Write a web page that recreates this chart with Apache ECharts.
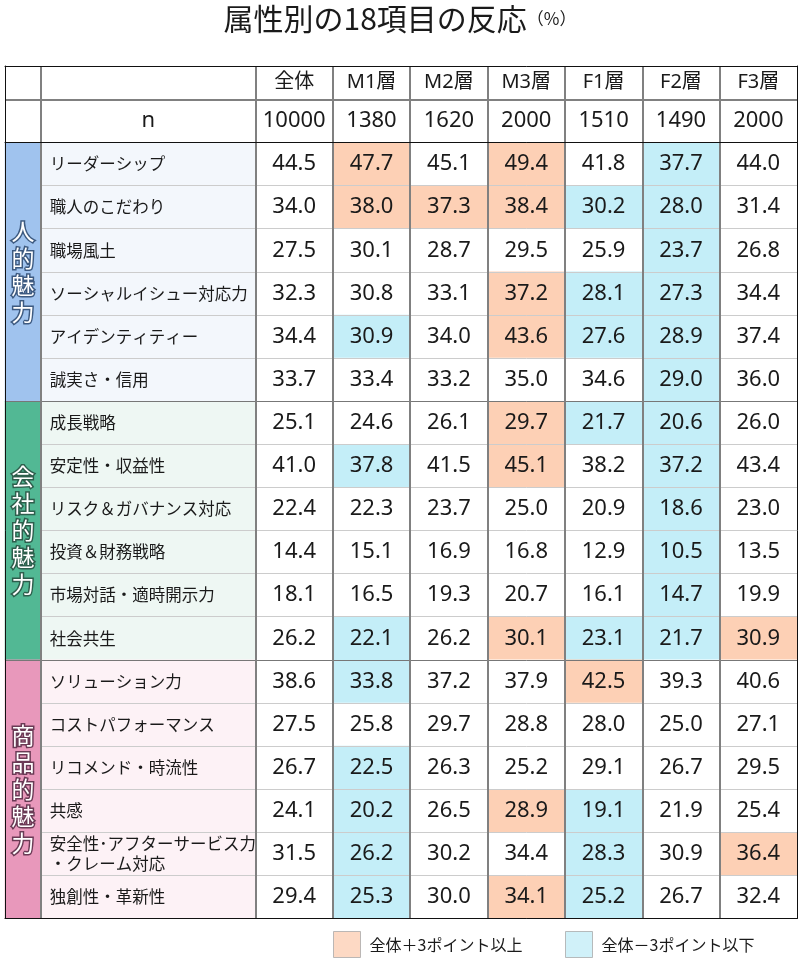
<!DOCTYPE html>
<html>
<head>
<meta charset="utf-8">
<script src="https://cdn.jsdelivr.net/npm/echarts@6/dist/echarts.min.js"></script>
<style>
  html, body { margin: 0; padding: 0; background: #fff; }
  #chart { width: 800px; height: 963px; }
</style>
</head>
<body>
<div id="chart"></div>
<script>
const groups = ["人的魅力", "会社的魅力", "商品的魅力"];
const items = [
  "リーダーシップ", "職人のこだわり", "職場風土", "ソーシャルイシュー対応力", "アイデンティティー", "誠実さ・信用",
  "成長戦略", "安定性・収益性", "リスク＆ガバナンス対応", "投資＆財務戦略", "市場対話・適時開示力", "社会共生",
  "ソリューション力", "コストパフォーマンス", "リコメンド・時流性", "共感", "安全性･アフターサービス力\n・クレーム対応", "独創性・革新性",
];
const segments = ["全体", "M1層", "M2層", "M3層", "F1層", "F2層", "F3層"];
const sampleSizes = [10000, 1380, 1620, 2000, 1510, 1490, 2000];
const values = [
  [44.5, 47.7, 45.1, 49.4, 41.8, 37.7, 44.0],
  [34.0, 38.0, 37.3, 38.4, 30.2, 28.0, 31.4],
  [27.5, 30.1, 28.7, 29.5, 25.9, 23.7, 26.8],
  [32.3, 30.8, 33.1, 37.2, 28.1, 27.3, 34.4],
  [34.4, 30.9, 34.0, 43.6, 27.6, 28.9, 37.4],
  [33.7, 33.4, 33.2, 35.0, 34.6, 29.0, 36.0],
  [25.1, 24.6, 26.1, 29.7, 21.7, 20.6, 26.0],
  [41.0, 37.8, 41.5, 45.1, 38.2, 37.2, 43.4],
  [22.4, 22.3, 23.7, 25.0, 20.9, 18.6, 23.0],
  [14.4, 15.1, 16.9, 16.8, 12.9, 10.5, 13.5],
  [18.1, 16.5, 19.3, 20.7, 16.1, 14.7, 19.9],
  [26.2, 22.1, 26.2, 30.1, 23.1, 21.7, 30.9],
  [38.6, 33.8, 37.2, 37.9, 42.5, 39.3, 40.6],
  [27.5, 25.8, 29.7, 28.8, 28.0, 25.0, 27.1],
  [26.7, 22.5, 26.3, 25.2, 29.1, 26.7, 29.5],
  [24.1, 20.2, 26.5, 28.9, 19.1, 21.9, 25.4],
  [31.5, 26.2, 30.2, 34.4, 28.3, 30.9, 36.4],
  [29.4, 25.3, 30.0, 34.1, 25.2, 26.7, 32.4],
];
// 1 = 全体+3ポイント以上, -1 = 全体−3ポイント以下 (as marked in the source table)
const marks = [
  [0, 1, 0, 1, 0, -1, 0],
  [0, 1, 1, 1, -1, -1, 0],
  [0, 0, 0, 0, 0, -1, 0],
  [0, 0, 0, 1, -1, -1, 0],
  [0, -1, 0, 1, -1, -1, 0],
  [0, 0, 0, 0, 0, -1, 0],
  [0, 0, 0, 1, -1, -1, 0],
  [0, -1, 0, 1, 0, -1, 0],
  [0, 0, 0, 0, 0, -1, 0],
  [0, 0, 0, 0, 0, -1, 0],
  [0, 0, 0, 0, 0, -1, 0],
  [0, -1, 0, 1, -1, -1, 1],
  [0, -1, 0, 0, 1, 0, 0],
  [0, 0, 0, 0, 0, 0, 0],
  [0, -1, 0, 0, 0, 0, 0],
  [0, -1, 0, 1, -1, 0, 0],
  [0, -1, 0, 0, -1, 0, 1],
  [0, -1, 0, 1, -1, 0, 0],
];
const legendNames = ["全体＋3ポイント以上", "全体－3ポイント以下"];

const rowsPerGroup = 6;
const groupColors = ["#a0c3ee", "#52b894", "#e898bb"];
const groupTextBorder = ["#3d5a80", "#2d5e4c", "#6a3a55"];
const groupTints = ["#f3f7fc", "#eef7f3", "#fdf2f6"];
const upColor = "#fdd0b5";
const downColor = "#c4eef8";

const numFont = "'Noto Sans', 'Noto Sans CJK JP', sans-serif";
const jpFont = "'Noto Sans CJK JP', sans-serif";
const textColor = "#1a1a1a";

const chart = echarts.init(document.getElementById("chart"));

const grids = [];
const xAxes = [];
const yAxes = [];
const series = [];

// each table block gets its own grid; lines come from the axes
function addGrid(box, nCols, nRows, opt) {
  const idx = grids.length;
  grids.push({ left: box[0], top: box[1], width: box[2], height: box[3] });
  xAxes.push({
    gridIndex: idx,
    type: "category",
    data: Array.from({ length: nCols }, (_, i) => i),
    position: opt.xPos || "bottom",
    z: 7,
    axisLine: { show: !!opt.xLine, lineStyle: { color: "#111", width: 1 } },
    axisTick: { show: false },
    axisLabel: { show: false },
    splitLine: {
      show: true,
      showMinLine: opt.xMin !== false,
      showMaxLine: opt.xMax !== false,
      lineStyle: { color: "#808080", width: 2 },
    },
  });
  yAxes.push({
    gridIndex: idx,
    type: "category",
    inverse: true,
    data: Array.from({ length: nRows }, (_, i) => i),
    position: opt.yPos || "left",
    z: 5,
    axisLine: { show: !!opt.yLine, lineStyle: { color: "#111", width: 1 } },
    axisTick: { show: false },
    axisLabel: { show: false },
    splitLine: {
      show: true,
      showMinLine: opt.yMin !== false,
      showMaxLine: opt.yMax !== false,
      lineStyle: { color: opt.hColor || "#808080", width: opt.hWidth || 2 },
    },
  });
  return idx;
}

function cellSeries(gridIdx, data, label) {
  series.push({
    type: "heatmap",
    xAxisIndex: gridIdx,
    yAxisIndex: gridIdx,
    data: data,
    itemStyle: { borderWidth: 0 },
    emphasis: { disabled: true },
    label: Object.assign({ show: true, color: textColor }, label),
  });
}

const colG = [5, 36];
const colL = [41, 214.5];
const colD = [255.5, 541.5];
const rowH = [66, 33.5];
const rowN = [99.5, 43];
const rowB = [142.5, 776];

// header row
const gH = addGrid([colG[0], rowH[0], colG[1], rowH[1]], 1, 1, { xPos: "top", xLine: true, yLine: true, xMin: false, yMin: false });
const lH = addGrid([colL[0], rowH[0], colL[1], rowH[1]], 1, 1, { xPos: "top", xLine: true, yMin: false });
const dH = addGrid([colD[0], rowH[0], colD[1], rowH[1]], segments.length, 1, { xPos: "top", xLine: true, yPos: "right", yLine: true, xMax: false, yMin: false });
cellSeries(gH, [{ value: [0, 0, 0], itemStyle: { color: "#fff" } }], { show: false });
cellSeries(lH, [{ value: [0, 0, 0], itemStyle: { color: "#fff" } }], { show: false });
cellSeries(
  dH,
  segments.map((s, i) => ({ value: [i, 0, 0], itemStyle: { color: "#fff" } })),
  { formatter: (p) => segments[p.value[0]], fontFamily: numFont, fontSize: 20 }
);

// n row
const gN = addGrid([colG[0], rowN[0], colG[1], rowN[1]], 1, 1, { xLine: true, yLine: true, xMin: false, yMax: false });
const lN = addGrid([colL[0], rowN[0], colL[1], rowN[1]], 1, 1, { xLine: true, yMax: false });
const dN = addGrid([colD[0], rowN[0], colD[1], rowN[1]], segments.length, 1, { xLine: true, yPos: "right", yLine: true, xMax: false, yMax: false });
cellSeries(gN, [{ value: [0, 0, 0], itemStyle: { color: "#fff" } }], { show: false });
cellSeries(lN, [{ value: [0, 0, 0], itemStyle: { color: "#fff" } }], { formatter: "n", fontFamily: numFont, fontSize: 22 });
cellSeries(
  dN,
  sampleSizes.map((v, i) => ({ value: [i, 0, v], itemStyle: { color: "#fff" } })),
  { formatter: (p) => String(p.value[2]), fontFamily: numFont, fontSize: 22 }
);

// body
const bodyLines = ["#777", "#cccccc", "#cccccc", "#cccccc", "#cccccc", "#cccccc"];
const gB = addGrid([colG[0], rowB[0], colG[1], rowB[1]], 1, groups.length, { xLine: true, yLine: true, xMin: false, hColor: "#777", hWidth: 1 });
const lB = addGrid([colL[0], rowB[0], colL[1], rowB[1]], 1, items.length, { xLine: true, hColor: bodyLines, hWidth: 1 });
const dB = addGrid([colD[0], rowB[0], colD[1], rowB[1]], segments.length, items.length, { xLine: true, yPos: "right", yLine: true, xMax: false, hColor: bodyLines, hWidth: 1 });

series.push({
  type: "heatmap",
  xAxisIndex: gB,
  yAxisIndex: gB,
  emphasis: { disabled: true },
  data: groups.map((g, i) => ({
    value: [0, i, 0],
    itemStyle: { color: groupColors[i] },
    label: { textBorderColor: groupTextBorder[i] },
  })),
  label: {
    show: true,
    formatter: (p) => groups[p.value[1]].split("").join("\n"),
    color: "#fff",
    textBorderWidth: 3,
    fontFamily: jpFont,
    fontSize: 23,
    lineHeight: 27,
  },
});

cellSeries(
  lB,
  items.map((name, r) => ({ value: [0, r, 0], itemStyle: { color: groupTints[Math.floor(r / rowsPerGroup)] } })),
  {
    formatter: (p) => items[p.value[1]],
    position: "insideLeft",
    distance: 9,
    fontFamily: jpFont,
    fontSize: 16.5,
    lineHeight: 20,
  }
);

const bodyData = [];
values.forEach((row, r) => {
  row.forEach((v, c) => {
    const m = marks[r][c];
    bodyData.push({
      value: [c, r, v],
      itemStyle: { color: m > 0 ? upColor : m < 0 ? downColor : "#fff" },
    });
  });
});
cellSeries(dB, bodyData, {
  formatter: (p) => p.value[2].toFixed(1),
  fontFamily: numFont,
  fontSize: 22,
});

// legend-only series
[upColor, downColor].forEach((color, i) => {
  series.push({
    type: "scatter",
    name: legendNames[i],
    xAxisIndex: dB,
    yAxisIndex: dB,
    data: [],
    itemStyle: { color: color, borderColor: "#aaa", borderWidth: 1 },
  });
});

const legendBase = {
  top: 931,
  padding: 0,
  icon: "rect",
  itemWidth: 27,
  itemHeight: 26,
  selectedMode: false,
  textStyle: { fontFamily: jpFont, fontSize: 16, color: textColor, padding: [0, 0, 0, 4] },
};

chart.setOption({
  animation: false,
  title: {
    text: "{a|属性別の18項目の反応}{b|（%）}",
    left: "center",
    top: -1,
    textStyle: {
      rich: {
        a: { fontFamily: jpFont, fontSize: 30, fontWeight: "normal", color: textColor },
        b: { fontFamily: jpFont, fontSize: 17, fontWeight: "normal", color: textColor },
      },
    },
  },
  legend: [
    Object.assign({}, legendBase, { left: 333, data: [{ name: legendNames[0], itemStyle: { color: upColor, borderColor: "#aaa", borderWidth: 1 } }] }),
    Object.assign({}, legendBase, { left: 565, data: [{ name: legendNames[1], itemStyle: { color: downColor, borderColor: "#aaa", borderWidth: 1 } }] }),
  ],
  grid: grids,
  xAxis: xAxes,
  yAxis: yAxes,
  series: series,
});

window.addEventListener("resize", () => chart.resize());
</script>
</body>
</html>
